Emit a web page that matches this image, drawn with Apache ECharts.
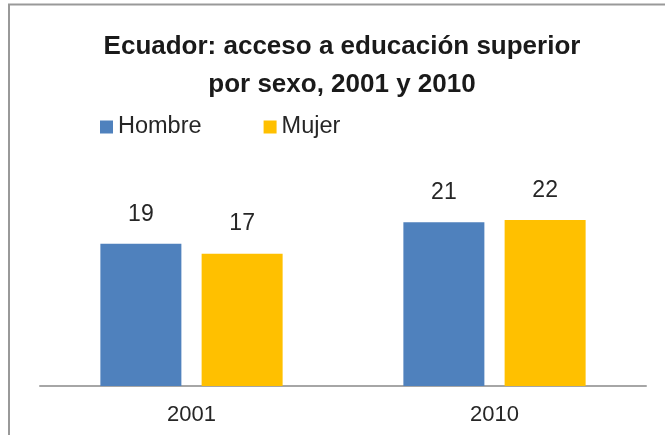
<!DOCTYPE html>
<html>
<head>
<meta charset="utf-8">
<script src="https://cdn.jsdelivr.net/npm/echarts@6/dist/echarts.min.js"></script>
<style>
html,body{margin:0;padding:0;background:#fff;}
#chart{width:665px;height:435px;}
</style>
</head>
<body>
<div id="chart"></div>
<script>
const categories = ['2001', '2010'];
const hombre = [18.6, 21.4];
const mujer = [17.3, 21.7];
const seriesNames = ['Hombre', 'Mujer'];
const titleText = 'Ecuador: acceso a educación superior\npor sexo, 2001 y 2010';

const FONT = '"Liberation Sans", Arial, sans-serif';
const chart = echarts.init(document.getElementById('chart'));
const labelOpt = {
  show: true,
  position: 'top',
  distance: 18,
  fontSize: 23,
  fontFamily: FONT,
  color: '#262626',
  formatter: p => Math.round(p.value)
};
chart.setOption({
  backgroundColor: '#fff',
  animation: false,
  title: {
    text: titleText,
    left: 342,
    top: 28,
    padding: 0,
    textAlign: 'center',
    textStyle: {
      fontFamily: FONT,
      fontSize: 26,
      fontWeight: 'bold',
      lineHeight: 38,
      color: '#1a1a1a'
    }
  },
  legend: {
    data: seriesNames,
    left: 100,
    top: 115,
    padding: 0,
    icon: 'rect',
    itemWidth: 13,
    itemHeight: 13,
    itemGap: 62,
    textStyle: { fontFamily: FONT, fontSize: 23.5, color: '#262626' }
  },
  graphic: [{
    type: 'rect',
    shape: { x: 9, y: 4.5, width: 720, height: 520 },
    style: { fill: 'none', stroke: '#999', lineWidth: 2 },
    silent: true
  }],
  grid: { left: 40, right: 19, top: 194.75, bottom: 49 },
  xAxis: {
    type: 'category',
    data: categories,
    axisLine: { lineStyle: { color: '#a6a6a6', width: 2 } },
    axisTick: { show: false },
    axisLabel: { fontFamily: FONT, fontSize: 22, color: '#262626', margin: 18 }
  },
  yAxis: {
    type: 'value',
    min: 0,
    max: 25,
    show: false,
    splitLine: { show: false }
  },
  series: [
    { name: 'Hombre', type: 'bar', data: hombre, barWidth: 81, barGap: '25%',
      itemStyle: { color: '#4f81bd' }, label: labelOpt },
    { name: 'Mujer', type: 'bar', data: mujer, barWidth: 81, barGap: '25%',
      itemStyle: { color: '#ffc000' }, label: labelOpt }
  ]
});
</script>
</body>
</html>
